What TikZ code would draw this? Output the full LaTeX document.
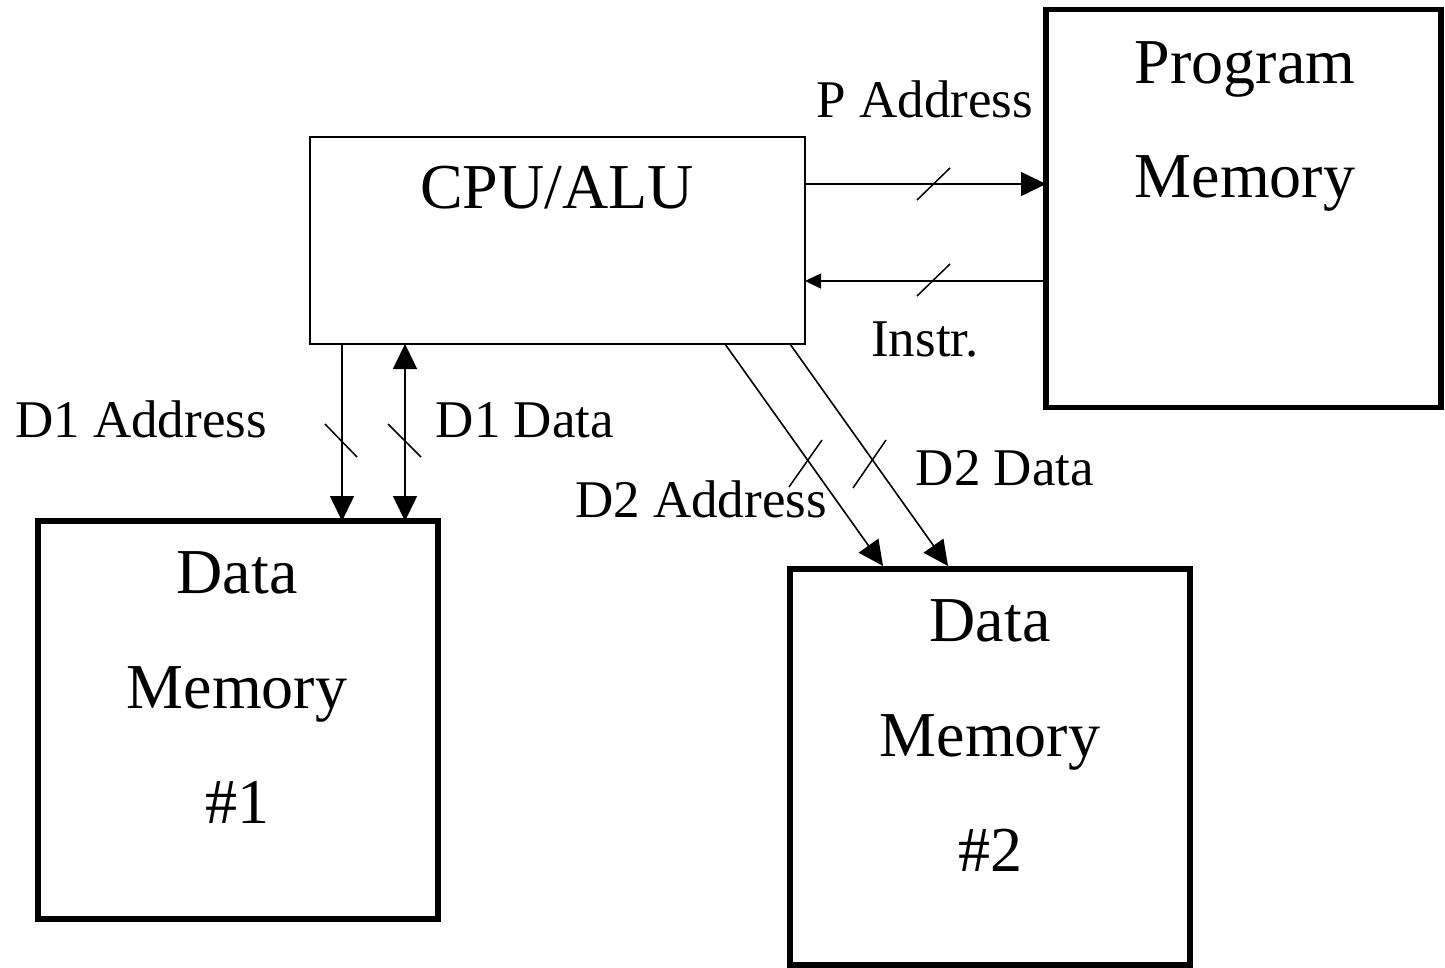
\documentclass[tikz,border=0pt]{standalone}
\usepackage{fontspec}
\setmainfont{Liberation Serif}
\usetikzlibrary{arrows.meta}
\begin{document}
\begin{tikzpicture}[x=1pt,y=-1pt,
  thinbox/.style={draw,line width=1.6pt,rectangle,inner sep=0pt,outer sep=0pt},
  thickbox/.style={draw,line width=5.5pt,rectangle,inner sep=0pt,outer sep=0pt},
  boxtext/.style={font=\fontsize{64}{64}\selectfont,anchor=base,inner sep=0pt},
  lbl/.style={font=\fontsize{53}{53}\selectfont,anchor=base,inner sep=0pt},
  conn/.style={line width=1.6pt},
  bighead/.style={-{Triangle[length=25pt,width=24pt]}},
  smallhead/.style={-{Triangle[length=16pt,width=15pt]}},
  tick/.style={line width=1.5pt}]
\useasboundingbox (0,0) rectangle (1445,967);
% boxes
\node[thinbox,minimum width=495pt,minimum height=207pt] (cpu) at (557.5,240.5) {};
\node[thickbox,minimum width=395pt,minimum height=398pt] (pm) at (1243.5,208.5) {};
\node[thickbox,minimum width=400pt,minimum height=398pt] (dm1) at (238,720) {};
\node[thickbox,minimum width=400pt,minimum height=396pt] (dm2) at (990,767) {};
% box texts
\node[boxtext] (tcpu) at (557,208) {CPU/ALU};
\node[boxtext] (tpm1) at (1245,83) {Program};
\node[boxtext] (tpm2) at (1245,197) {Memory};
\node[boxtext] (td11) at (237,593) {Data};
\node[boxtext] (td12) at (237,708) {Memory};
\node[boxtext] (td13) at (237,823) {\#1};
\node[boxtext] (td21) at (990,641) {Data};
\node[boxtext] (td22) at (990,756) {Memory};
\node[boxtext] (td23) at (990,871) {\#2};
% labels
\node[lbl] (lpa) at (925,117) {P Address};
\node[lbl] (lin) at (925,356) {Instr.};
\node[lbl] (ld1a) at (141,437) {D1 Address};
\node[lbl] (ld1d) at (525,437) {D1 Data};
\node[lbl] (ld2a) at (701,517) {D2 Address};
\node[lbl] (ld2d) at (1005,485) {D2 Data};
% coordinates for connectors
\coordinate (c1) at (342,344);
\coordinate (c2) at (405,344);
\coordinate (c3) at (725,344);
\coordinate (c4) at (790,344);
\coordinate (m1) at (883,566);
\coordinate (m2) at (948,566);
% connectors
\draw[conn,bighead] (cpu.east |- 0,184) -- (pm.west |- 0,184);
\draw[conn,smallhead] (pm.west |- 0,281) -- (cpu.east |- 0,281);
\draw[conn,bighead] (c1) -- (c1 |- dm1.north);
\draw[conn,{Triangle[length=25pt,width=24pt]}-{Triangle[length=25pt,width=24pt]}] (c2) -- (c2 |- dm1.north);
\draw[conn,bighead] (c3) -- (m1);
\draw[conn,bighead] (c4) -- (m2);
% bus ticks
\draw[tick] (917,200) -- (950,168);
\draw[tick] (917,296) -- (950,264);
\draw[tick] (325,424) -- (357,457);
\draw[tick] (388,424) -- (421,457);
\draw[tick] (789,487) -- (822,440);
\draw[tick] (853,488) -- (886,440);
\end{tikzpicture}
\end{document}
